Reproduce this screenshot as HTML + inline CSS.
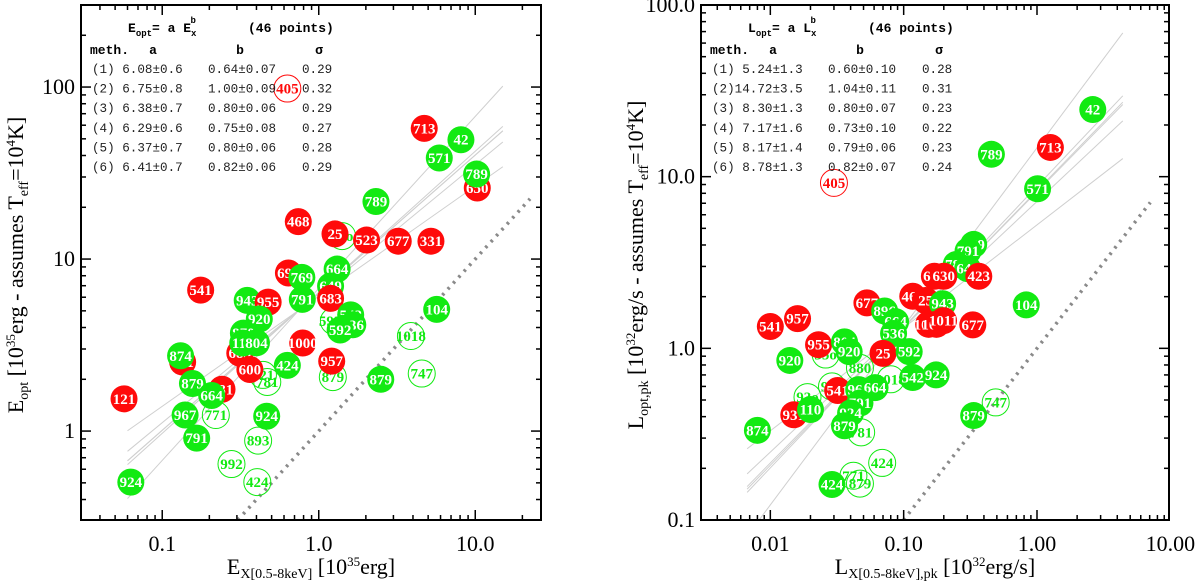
<!DOCTYPE html>
<html><head><meta charset="utf-8"><style>
html,body{margin:0;padding:0;background:#fff;}
svg{display:block;}
.tk{font-family:"Liberation Serif",serif;font-size:22px;fill:#000;}
.mono{font-family:"Liberation Mono",monospace;font-size:12.6px;fill:#222;}
.monob{font-family:"Liberation Mono",monospace;font-size:13px;font-weight:bold;fill:#000;}
.lab{font-family:"Liberation Serif",serif;font-weight:bold;font-size:15px;}
</style></head><body>
<svg id="chart" width="1200" height="585" viewBox="0 0 1200 585" xmlns="http://www.w3.org/2000/svg"></svg>
<script>
// ---------- Left panel data (E_opt vs E_X) ----------
const leftLabels = ["405","747","1018","879","893","992","424","771","781","721","25o","592o",
 "713","42","571","650","789","789","468","25","523","677","331","664","693","769","649","683","791","541","943","955","920","542","536","592","870","683","110","804","1000","651","874","957","424","600","879","104","879","681","664","121","967","924","791","924"];
const leftOpen = [1,1,1,1,1,1,1,1,1,1,1,1, 0,0,0,0,0,0,0,0,0,0,0,0,0,0,0,0,0,0,0,0,0,0,0,0,0,0,0,0,0,0,0,0,0,0,0,0,0,0,0,0,0,0,0,0];
const leftRed  = [1,0,0,0,0,0,0,0,0,0,0,0, 1,0,0,1,0,0,1,1,1,1,1,0,1,0,0,1,0,1,0,1,0,0,0,0,0,1,0,0,1,1,0,1,0,1,0,0,0,1,0,1,0,0,0,0];
const leftX = [0.63,4.55,3.88,1.23,0.41,0.277,0.405,0.22,0.469,0.44,1.41,1.25,
 4.72,8.1,5.89,10.3,10.2,2.32,0.74,1.27,2.02,3.22,5.21,1.31,0.64,0.78,1.19,1.19,0.785,0.176,0.349,0.475,0.417,1.6,1.65,1.37,0.33,0.313,0.327,0.40,0.79,0.135,0.131,1.21,0.63,0.363,2.49,5.67,0.156,0.241,0.207,0.057,0.14,0.465,0.166,0.063];
const leftY = [98,2.16,3.57,2.06,0.88,0.643,0.505,1.24,1.93,2.12,13.6,4.36,
 57.5,49.4,38.7,25.9,31.2,21.6,16.5,14.0,12.9,12.7,12.7,8.75,8.3,7.83,6.97,5.91,5.83,6.6,5.75,5.62,4.48,4.74,4.15,3.87,3.71,2.84,3.25,3.26,3.25,2.52,2.74,2.55,2.41,2.28,2.0,5.1,1.89,1.75,1.61,1.54,1.24,1.22,0.91,0.505];
const leftA = [6.08,6.75,6.38,6.29,6.37,6.41];
const leftAerr = ["0.6","0.8","0.7","0.6","0.7","0.7"];
const leftB = [0.64,1.00,0.80,0.75,0.80,0.82];
const leftBerr = ["0.07","0.09","0.06","0.08","0.06","0.06"];
const leftSig = ["0.29","0.32","0.29","0.27","0.28","0.29"];
const leftXTicks = [0.1,1,10];
const leftXTickLabels = ["0.1","1.0","10.0"];
const leftYTicks = [1,10,100];
const leftYTickLabels = ["1","10","100"];

// ---------- Right panel data (L_opt vs L_X) ----------
const rightLabels = ["405","747","424","771","879","781","880","1018","92o","93o","35o",
 "42","713","789","571","769","791","789","649","683","630","423","677","468","25","943","896","664","1000","1001","1011","677","104","541","957","536","955","804","920","920","25","592","542","924","541","967","664","791","931","110","924","879","874","879","424"];
const rightOpen = [1,1,1,1,1,1,1,1,1,1,1, 0,0,0,0,0,0,0,0,0,0,0,0,0,0,0,0,0,0,0,0,0,0,0,0,0,0,0,0,0,0,0,0,0,0,0,0,0,0,0,0,0,0,0,0];
const rightRed  = [1,0,0,0,0,0,0,0,0,0,0, 0,1,0,0,0,0,0,0,1,1,1,1,1,1,0,0,0,1,1,1,1,0,1,1,0,1,0,0,0,1,0,0,0,1,0,0,0,1,0,0,0,0,0,0];
const rightX = [0.030,0.49,0.069,0.042,0.047,0.048,0.047,0.080,0.029,0.019,0.026,
 2.62,1.26,0.455,1.01,0.335,0.304,0.248,0.302,0.17,0.2,0.366,0.053,0.117,0.146,0.196,0.072,0.087,0.154,0.176,0.199,0.33,0.83,0.010,0.016,0.084,0.023,0.036,0.039,0.014,0.070,0.11,0.117,0.175,0.032,0.046,0.061,0.047,0.015,0.020,0.040,0.036,0.008,0.335,0.029];
const rightY = [9.2,0.484,0.215,0.181,0.163,0.324,0.77,0.66,0.60,0.52,0.92,
 24.6,14.8,13.5,8.5,4.03,3.69,3.08,2.91,2.63,2.63,2.63,1.84,2.01,1.9,1.82,1.65,1.43,1.38,1.38,1.45,1.37,1.79,1.34,1.49,1.22,1.05,1.09,0.957,0.85,0.935,0.957,0.676,0.70,0.568,0.575,0.59,0.48,0.41,0.44,0.42,0.354,0.333,0.406,0.161];
const rightA = [5.24,14.72,8.30,7.17,8.17,8.78];
const rightAerr = ["1.3","3.5","1.3","1.6","1.4","1.3"];
const rightB = [0.60,1.04,0.80,0.73,0.79,0.82];
const rightBerr = ["0.10","0.11","0.07","0.10","0.06","0.07"];
const rightSig = ["0.28","0.31","0.23","0.22","0.23","0.24"];
const rightXTicks = [0.01,0.1,1,10];
const rightXTickLabels = ["0.01","0.10","1.00","10.00"];
const rightYTicks = [0.1,1,10,100];
const rightYTickLabels = ["0.1","1.0","10.0","100.0"];

const NS="http://www.w3.org/2000/svg";
const svg=document.getElementById('chart');
function mk(tag,attrs,parent,text){const e=document.createElementNS(NS,tag);for(const k in attrs)e.setAttribute(k,attrs[k]);if(text!==undefined)e.textContent=text;(parent||svg).appendChild(e);return e;}
const RED="#ff0a0a", GREEN="#12ea12";

function panel(cfg){
  const g=mk('g',{});
  
  
  const L=cfg.L,R=cfg.R,T=5,B=520;
  const X=v=>L+(Math.log10(v)-cfg.xmin)/(cfg.xmax-cfg.xmin)*(R-L);
  const Y=v=>B-(Math.log10(v)-cfg.ymin)/(cfg.ymax-cfg.ymin)*(B-T);
  const cid='clip'+cfg.name;
  const cp=mk('clipPath',{id:cid},g); mk('rect',{x:L,y:T,width:R-L,height:B-T},cp);
  const inner=mk('g',{'clip-path':'url(#'+cid+')'},g);
  const d1=Math.pow(10,Math.max(cfg.xmin,cfg.ymin)), d2=Math.pow(10,cfg.diagEnd);
  const dl=mk('line',{x1:X(d1),y1:Y(d1),x2:X(d2),y2:Y(d2),stroke:'#8a8a8a','stroke-width':3.5,'stroke-dasharray':'2.5 5.5'},inner);
  
  
  cfg.A.forEach((a,i)=>{const b=cfg.Bv[i];
    const ln=mk('line',{x1:X(cfg.fx0),y1:Y(a*Math.pow(cfg.fx0,b)),x2:X(cfg.fx1),y2:Y(a*Math.pow(cfg.fx1,b)),stroke:'#cfcfcf','stroke-width':1},inner);
    
    
  });
  cfg.xs.forEach((xv,i)=>{
    const open=cfg.open[i], col=cfg.red[i]?RED:GREEN;
    const pg=mk('g',{},inner);
    
    
    const cx=X(xv), cy=Y(cfg.ys[i]);
    mk('circle',{cx:cx,cy:cy,r:13.5,fill:open?'none':col,stroke:col,'stroke-width':open?1:0},pg);
    mk('text',{x:cx,y:cy+5,'text-anchor':'middle',class:'lab',fill:open?col:'#fff'},pg,cfg.labels[i]);
  });
  const fr=mk('rect',{x:L,y:T,width:R-L,height:B-T,fill:'none',stroke:'#000','stroke-width':2},g);
  
  
  for(let e=Math.floor(cfg.xmin);e<=Math.ceil(cfg.xmax);e++){for(let m=1;m<10;m++){const v=m*Math.pow(10,e);const lv=Math.log10(v);if(lv<cfg.xmin-1e-6||lv>cfg.xmax+1e-6)continue;const x=X(v),len=m==1?10:5;
    mk('line',{x1:x,y1:B,x2:x,y2:B-len,stroke:'#000','stroke-width':1.5},g);mk('line',{x1:x,y1:T,x2:x,y2:T+len,stroke:'#000','stroke-width':1.5},g);}}
  for(let e=Math.floor(cfg.ymin);e<=Math.ceil(cfg.ymax);e++){for(let m=1;m<10;m++){const v=m*Math.pow(10,e);const lv=Math.log10(v);if(lv<cfg.ymin-1e-6||lv>cfg.ymax+1e-6)continue;const y=Y(v),len=m==1?10:5;
    mk('line',{x1:L,y1:y,x2:L+len,y2:y,stroke:'#000','stroke-width':1.5},g);mk('line',{x1:R,y1:y,x2:R-len,y2:y,stroke:'#000','stroke-width':1.5},g);}}
  cfg.xt.forEach((v,i)=>{const t=mk('text',{x:X(v),y:551,'text-anchor':'middle',class:'tk'},g,cfg.xtl[i]);});
  cfg.yt.forEach((v,i)=>{const t=mk('text',{x:L-6,y:Y(v)+7,'text-anchor':'end',class:'tk'},g,cfg.ytl[i]);});
  const tb=mk('g',{},g);
  
  
  const o=L;
  const ttl=mk('text',{x:o+47,y:32,class:'monob'},tb);
  mk('tspan',{},ttl,cfg.q); mk('tspan',{dy:4,'font-size':'9'},ttl,'opt'); mk('tspan',{dy:-4},ttl,'= a '+cfg.q);
  mk('tspan',{dy:4,'font-size':'9'},ttl,'x'); mk('tspan',{dy:-13,dx:-6,'font-size':'9'},ttl,'b');
  mk('text',{x:o+167,y:32,class:'monob'},tb,'(46 points)');
  mk('text',{x:o+9,y:54,class:'monob'},tb,'meth.');
  mk('text',{x:o+72,y:54,class:'monob','text-anchor':'middle'},tb,'a');
  mk('text',{x:o+159,y:54,class:'monob','text-anchor':'middle'},tb,'b');
  mk('text',{x:o+238,y:54,class:'monob','text-anchor':'middle'},tb,'σ');
  cfg.A.forEach((a,i)=>{const y=73+i*19.6;
    const as=a.toFixed(2);
    mk('text',{x:o+11,y:y,class:'mono'},tb,'('+(i+1)+')'+(as.length>4?'':' ')+as+'±'+cfg.Aerr[i]);
    mk('text',{x:o+127,y:y,class:'mono'},tb,cfg.Bv[i].toFixed(2)+'±'+cfg.Berr[i]);
    mk('text',{x:o+221,y:y,class:'mono'},tb,cfg.sig[i]);
  });
  const xa=mk('text',{x:(L+R)/2,y:574,'text-anchor':'middle',class:'tk','font-size':'22'},g);
  
  
  mk('tspan',{},xa,cfg.q); mk('tspan',{dy:4,'font-size':'14'},xa,cfg.xsub); mk('tspan',{dy:-4},xa,' [10'); mk('tspan',{dy:-8,'font-size':'13'},xa,cfg.pow); mk('tspan',{dy:8},xa,cfg.unit+']');
  const ya=mk('text',{x:0,y:0,'text-anchor':'middle',class:'tk',transform:'translate('+(L-58)+',265) rotate(-90)'},g);
  
  
  mk('tspan',{},ya,cfg.q); mk('tspan',{dy:5,'font-size':'14'},ya,cfg.ysub); mk('tspan',{dy:-5},ya,' [10'); mk('tspan',{dy:-8,'font-size':'13'},ya,cfg.pow); mk('tspan',{dy:8},ya,cfg.unit+' - assumes T'); mk('tspan',{dy:5,'font-size':'14'},ya,'eff'); mk('tspan',{dy:-5},ya,'=10'); mk('tspan',{dy:-8,'font-size':'13'},ya,'4'); mk('tspan',{dy:8},ya,'K]');
}
panel({name:'left-panel',L:81,R:541,xmin:-1.519,xmax:1.42,ymin:-0.517,ymax:2.477,diagEnd:1.35,fx0:0.06,fx1:15,
 A:leftA,Aerr:leftAerr,Bv:leftB,Berr:leftBerr,sig:leftSig,xs:leftX,ys:leftY,labels:leftLabels,open:leftOpen,red:leftRed,
 xt:leftXTicks,xtl:leftXTickLabels,yt:leftYTicks,ytl:leftYTickLabels,q:'E',xsub:'X[0.5-8keV]',ysub:'opt',pow:'35',unit:'erg'});
panel({name:'right-panel',L:701,R:1169,xmin:-2.52,xmax:0.99,ymin:-1,ymax:2,diagEnd:0.85,fx0:0.0067,fx1:4.4,
 A:rightA,Aerr:rightAerr,Bv:rightB,Berr:rightBerr,sig:rightSig,xs:rightX,ys:rightY,labels:rightLabels,open:rightOpen,red:rightRed,
 xt:rightXTicks,xtl:rightXTickLabels,yt:rightYTicks,ytl:rightYTickLabels,q:'L',xsub:'X[0.5-8keV],pk',ysub:'opt,pk',pow:'32',unit:'erg/s'});
</script>
</body></html>
